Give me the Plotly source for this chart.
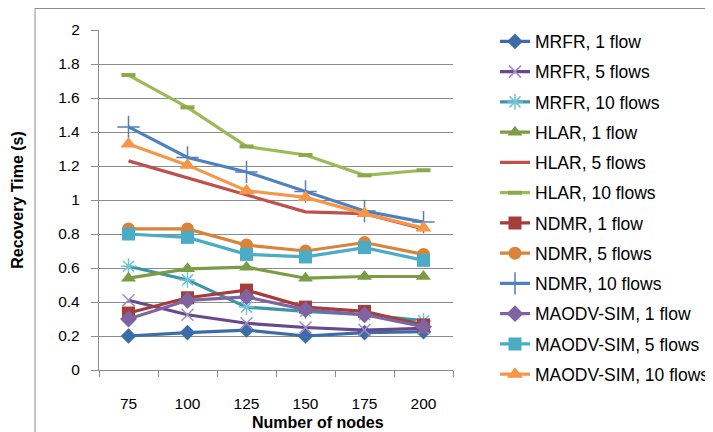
import plotly.graph_objects as go

nodes = ["75", "100", "125", "150", "175", "200"]

mrfr_1 = [0.20, 0.22, 0.235, 0.20, 0.22, 0.225]
mrfr_5 = [0.41, 0.325, 0.275, 0.25, 0.235, 0.245]
mrfr_10 = [0.61, 0.53, 0.37, 0.345, 0.325, 0.29]
hlar_1 = [0.54, 0.595, 0.605, 0.54, 0.55, 0.55]
hlar_5 = [1.23, 1.13, 1.03, 0.93, 0.92, 0.83]
hlar_10 = [1.735, 1.545, 1.315, 1.265, 1.145, 1.175]
ndmr_1 = [0.335, 0.425, 0.47, 0.37, 0.345, 0.265]
ndmr_5 = [0.83, 0.83, 0.735, 0.70, 0.75, 0.68]
ndmr_10 = [1.43, 1.25, 1.165, 1.05, 0.935, 0.87]
maodv_1 = [0.30, 0.41, 0.43, 0.355, 0.325, 0.255]
maodv_5 = [0.80, 0.78, 0.68, 0.665, 0.72, 0.645]
maodv_10 = [1.33, 1.205, 1.055, 1.015, 0.92, 0.835]

series = [
    ("MRFR, 1 flow", mrfr_1, "#3D6DA8", dict(symbol="diamond", size=12, color="#3D6DA8")),
    ("MRFR, 5 flows", mrfr_5, "#674A8E", dict(symbol="x-thin-open", size=12, color="#A08CC0", line=dict(width=1.5, color="#A08CC0"))),
    ("MRFR, 10 flows", mrfr_10, "#3A95AB", dict(symbol="asterisk-open", size=13, color="#72C3D8", line=dict(width=1.5, color="#72C3D8"))),
    ("HLAR, 1 flow", hlar_1, "#7C9B45", dict(symbol="triangle-up", size=13, color="#7C9B45")),
    ("HLAR, 5 flows", hlar_5, "#C0504D", None),
    ("HLAR, 10 flows", hlar_10, "#9BBB59", dict(symbol="line-ew-open", size=10, color="#8AAA4A", line=dict(width=4, color="#8AAA4A"))),
    ("NDMR, 1 flow", ndmr_1, "#A33E3B", dict(symbol="square", size=13, color="#A33E3B")),
    ("NDMR, 5 flows", ndmr_5, "#D8843A", dict(symbol="circle", size=13, color="#D8843A")),
    ("NDMR, 10 flows", ndmr_10, "#4F81BD", dict(symbol="cross-thin-open", size=16, color="#4F81BD", line=dict(width=1.5, color="#4F81BD"))),
    ("MAODV-SIM, 1 flow", maodv_1, "#8064A2", dict(symbol="diamond", size=13, color="#8064A2")),
    ("MAODV-SIM, 5 flows", maodv_5, "#4BACC6", dict(symbol="square", size=13, color="#4BACC6")),
    ("MAODV-SIM, 10 flows", maodv_10, "#F79646", dict(symbol="triangle-up", size=14, color="#F79646")),
]

fig = go.Figure()
for i, (name, vals, col, mk) in enumerate(series):
    kw = dict(x=nodes, y=vals, name=name, legendgroup=f"g{i}",
              line=dict(color=col, width=3.2))
    if mk is None:
        kw["mode"] = "lines"
    else:
        kw["mode"] = "lines+markers"
        kw["marker"] = mk
    fig.add_trace(go.Scatter(**kw))

font_family = "Liberation Sans, Arial, sans-serif"

# page body has an 8px margin, so figure coords = page coords - 8
fig.update_layout(
    width=713, height=432,
    margin=dict(l=91, r=268, t=22, b=70, autoexpand=False),
    paper_bgcolor="white", plot_bgcolor="white",
    font=dict(family=font_family, size=15, color="#000000"),
    showlegend=True,
    legend=dict(xref="container", yref="container",
                x=487 / 713, xanchor="left", y=1 - 15.5 / 432, yanchor="top",
                font=dict(size=17.5), tracegroupgap=4.5, maxheight=430,
                bgcolor="rgba(0,0,0,0)"),
    xaxis=dict(type="category", range=[-0.5, 5.5], showgrid=False,
               showline=True, linecolor="#8C8C8C", linewidth=1.3,
               ticks="outside", tickson="boundaries", ticklen=6,
               tickcolor="#8C8C8C", ticklabelstandoff=19,
               tickfont=dict(size=15.5)),
    yaxis=dict(range=[0, 2], dtick=0.2, tick0=0, showgrid=True,
               gridcolor="#8C8C8C", gridwidth=1.3,
               showline=True, linecolor="#8C8C8C", linewidth=1.3,
               ticks="outside", ticklen=7, tickcolor="#8C8C8C",
               ticklabelstandoff=8, zeroline=False,
               tickformat="~g", tickfont=dict(size=15.5),
               title=dict(text="<b>Recovery Time (s)</b>", standoff=30,
                          font=dict(size=16))),
)

fig.add_annotation(text="<b>Number of nodes</b>", xref="paper", yref="paper",
                   x=(318 - 99) / 354, y=-(423 - 370) / 340,
                   xanchor="center", yanchor="middle", showarrow=False,
                   font=dict(size=16))

fig.add_shape(type="rect", xref="paper", yref="paper",
              x0=(35 - 99) / 354, x1=(725 - 99) / 354,
              y0=(370 - 445) / 340, y1=(370 - 8.5) / 340,
              line=dict(color="#8C8C8C", width=1), layer="below")

fig.write_html("out.html")
